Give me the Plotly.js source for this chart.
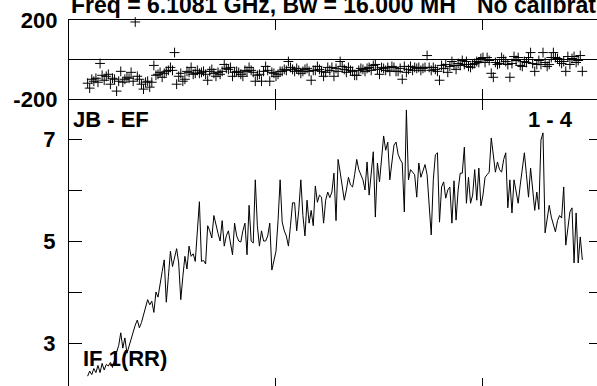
<!DOCTYPE html>
<html>
<head>
<meta charset="utf-8">
<script src="https://cdn.plot.ly/plotly-3.0.1.min.js"></script>
<style>
html,body{margin:0;padding:0;overflow:hidden;background:#fff;}
#chart{width:610px;height:392px;}
</style>
</head>
<body>
<div id="chart"></div>
<script>
// first channel shown; channels are consecutive
const firstChannel = 9;

// amplitude (bottom panel), channels 9..248
const amplitude = [
  2.35, 2.45, 2.38, 2.5, 2.42, 2.56, 2.42, 2.6, 2.47, 2.58,
  2.55, 2.62, 2.52, 2.7, 2.82, 2.95, 3.2, 2.9, 3.1, 2.8,
  2.95, 3.05, 3.2, 3.35, 3.45, 3.3, 3.4, 3.55, 3.65, 3.85,
  3.75, 3.82, 3.6, 4.0, 3.9, 4.2, 4.4, 4.63, 3.8, 4.3,
  4.8, 4.5, 4.65, 4.85, 4.57, 3.85, 4.3, 4.7, 4.45, 4.9,
  4.7, 4.75, 4.6, 5.1, 5.77, 4.6, 4.62, 4.55, 5.3, 5.2,
  5.06, 5.5, 5.3, 5.15, 5.0, 5.4, 4.9, 5.1, 5.2, 5.0,
  4.73, 5.35, 5.1, 5.0, 4.98, 5.2, 5.35, 4.73, 5.7, 5.0,
  4.96, 6.2, 5.3, 4.9, 5.2, 5.0, 5.0, 5.1, 5.35, 4.43,
  4.6, 4.8, 5.4, 6.2, 5.37, 5.2, 5.1, 4.9, 5.3, 5.75,
  5.75, 5.2, 5.6, 6.2, 5.5, 5.1, 5.8, 5.35, 5.6, 5.3,
  6.08, 5.76, 5.9, 5.86, 5.35, 5.8, 5.96, 5.85, 5.96, 6.33,
  5.4, 6.6, 6.35, 6.1, 5.8, 6.0, 6.25, 6.1, 6.06, 6.3,
  6.6, 6.4, 6.3, 6.2, 6.0, 6.55, 5.9, 6.3, 6.75, 5.47,
  6.53, 6.16, 6.6, 7.06, 6.78, 6.94, 6.2, 6.5, 6.88, 6.94,
  6.7, 6.6, 6.53, 5.57, 7.57, 6.2, 6.4, 6.35, 6.3, 5.86,
  6.53, 6.25, 6.4, 6.5, 6.3, 5.6, 5.12, 6.2, 6.69, 6.73,
  5.37, 6.06, 6.16, 5.84, 6.0, 6.06, 5.35, 6.18, 5.41, 6.0,
  6.33, 6.33, 6.84, 5.74, 6.25, 5.74, 5.9, 6.4, 5.8, 6.43,
  5.69, 5.9, 6.25, 6.3, 6.35, 7.02, 6.7, 6.35, 6.55, 6.4,
  6.35, 6.6, 6.73, 5.65, 6.2, 5.55, 6.2, 6.0, 5.74, 6.1,
  6.45, 6.73, 6.3, 5.86, 6.43, 6.0, 5.6, 5.96, 5.62, 6.98,
  7.12, 5.16, 5.4, 5.7, 5.47, 5.3, 5.18, 5.4, 5.5, 5.45,
  6.06, 4.92, 5.3, 5.57, 5.65, 4.57, 5.55, 4.57, 5.08, 4.63
];

// phase in degrees (top panel), channels 9..248
const phase = [
  -120, -145, -100, -110, -95, -115, -20, -80, -105, -85,
  -75, -125, -95, -100, -160, -110, -60, -115, -100, -90,
  -95, -65, -110, 190, -85, -100, -125, -150, -115, -110,
  -140, -115, -30, -80, -75, -65, -90, -70, -60, -55,
  -40, -55, 35, -125, -85, -70, -110, -100, -60, -65,
  -40, -75, -70, -55, -70, -65, -60, -75, -105, -60,
  -50, -70, -85, -65, -75, -60, -25, -45, -50, -40,
  -85, -65, -60, -65, -75, -85, -55, -60, -40, -55,
  -65, -110, -80, -75, -110, -60, -35, -55, -110, -65,
  -70, -85, -75, -60, -60, -50, -55, -10, -40, -50,
  -60, -45, -55, -70, -60, -50, -45, -60, -105, -55,
  -55, -35, -50, -60, -85, -65, -40, -55, -40, -85,
  -45, -60, -10, -35, -50, -65, -40, -55, -60, -80,
  -80, -55, -45, -50, -60, -45, -40, -55, -30, -25,
  -50, -75, -40, -45, -55, -40, -60, -35, -40, -60,
  -60, -45, -100, -35, -65, -50, -35, -55, -40, -45,
  -40, -55, -45, -40, 20, -40, -55, -40, -50, -60,
  -105, -30, -45, -25, -65, -35, -10, -30, -50, -20,
  -30, -5, -25, -10, -35, -40, -25, -20, -10, -15,
  5, 10, -15, 10, -5, -70, -90, -15, -25, -20,
  10, 0, -10, -25, -90, -20, 15, -5, 10, -30,
  -35, -10, -15, 10, 35, -20, -60, -25, -5, -25,
  35, -15, -35, -25, 10, 35, 10, 5, -10, -20,
  -10, -60, 15, -25, 5, 15, -15, -5, 20, -60
];

const ampTicks = [3, 4, 5, 6, 7];
const ampTickText = ['3', '', '5', '', '7'];
const phaseTicks = [-200, 0, 200];
const phaseTickText = ['-200', '', '200'];
const channelTicks = [0, 100, 200];

const titleText = 'Freq = 6.1081 GHz, Bw = 16.000 MH';
const calText = 'No calibration';
const baselineText = 'JB - EF';
const rangeText = '1 - 4';
const ifText = 'IF 1(RR)';

const channels = amplitude.map((_, i) => firstChannel + i);

const FONT = 'Liberation Sans, Arial, Helvetica, sans-serif';
const tf = {family: FONT, size: 22, color: '#000', weight: 'bold'};

const xCommon = {
  range: [0, 257.5], tickvals: channelTicks, showticklabels: false,
  ticks: 'inside', ticklen: 10, tickwidth: 1, tickcolor: '#000',
  showline: true, linecolor: '#000', linewidth: 1, mirror: 'ticks',
  showgrid: false, zeroline: false, fixedrange: true
};

const layout = {
  width: 610, height: 392,
  margin: {l: 69, r: 8, t: 20, b: 4},
  paper_bgcolor: '#fff', plot_bgcolor: '#fff',
  showlegend: false,
  xaxis: Object.assign({}, xCommon, {anchor: 'y'}),
  xaxis2: Object.assign({}, xCommon, {anchor: 'y2'}),
  yaxis: {
    domain: [0, 0.78261], range: [2.118, 7.765],
    tickvals: ampTicks, ticktext: ampTickText,
    ticks: 'inside', ticklen: 13, tickwidth: 1, tickcolor: '#000',
    showline: true, linecolor: '#000', linewidth: 1.2, mirror: 'ticks',
    showgrid: false, zeroline: false, tickfont: tf, ticklabelstandoff: 8,
    anchor: 'x'
  },
  yaxis2: {
    domain: [0.78533, 1], range: [-200, 200],
    tickvals: phaseTicks, ticktext: phaseTickText,
    ticks: 'inside', ticklen: 10, tickwidth: 1, tickcolor: '#000',
    showline: true, linecolor: '#000', linewidth: 1.2, mirror: 'ticks',
    showgrid: false, zeroline: true, zerolinecolor: '#000', zerolinewidth: 1,
    tickfont: tf, ticklabelstandoff: 6, anchor: 'x2'
  },
  annotations: [
    {text: titleText, xref: 'paper', yref: 'paper', x: 0.0, y: 1.0413,
     xanchor: 'left', yanchor: 'middle', showarrow: false,
     font: {family: FONT, size: 23, color: '#000', weight: 'bold'}},
    {text: calText, xref: 'paper', yref: 'paper', x: 0.762, y: 1.0413,
     xanchor: 'left', yanchor: 'middle', showarrow: false,
     font: {family: FONT, size: 23, color: '#000', weight: 'bold'}},
    {text: baselineText, xref: 'paper', yref: 'paper', x: 0.0045, y: 0.7296,
     xanchor: 'left', yanchor: 'middle', showarrow: false, font: tf},
    {text: rangeText, xref: 'paper', yref: 'paper', x: 0.949, y: 0.7296,
     xanchor: 'right', yanchor: 'middle', showarrow: false, font: tf},
    {text: ifText, xref: 'paper', yref: 'paper', x: 0.0225, y: 0.0815,
     xanchor: 'left', yanchor: 'middle', showarrow: false, font: tf}
  ]
};

const traces = [
  {x: channels, y: amplitude, xaxis: 'x', yaxis: 'y', type: 'scatter',
   mode: 'lines', line: {color: '#000', width: 1}, hoverinfo: 'skip'},
  {x: channels, y: phase, xaxis: 'x2', yaxis: 'y2', type: 'scatter',
   mode: 'markers', cliponaxis: false,
   marker: {symbol: 'cross-thin-open', size: 7, color: '#000', line: {color: '#000', width: 1}},
   hoverinfo: 'skip'}
];

Plotly.newPlot('chart', traces, layout, {staticPlot: true, displayModeBar: false});
</script>
</body>
</html>
